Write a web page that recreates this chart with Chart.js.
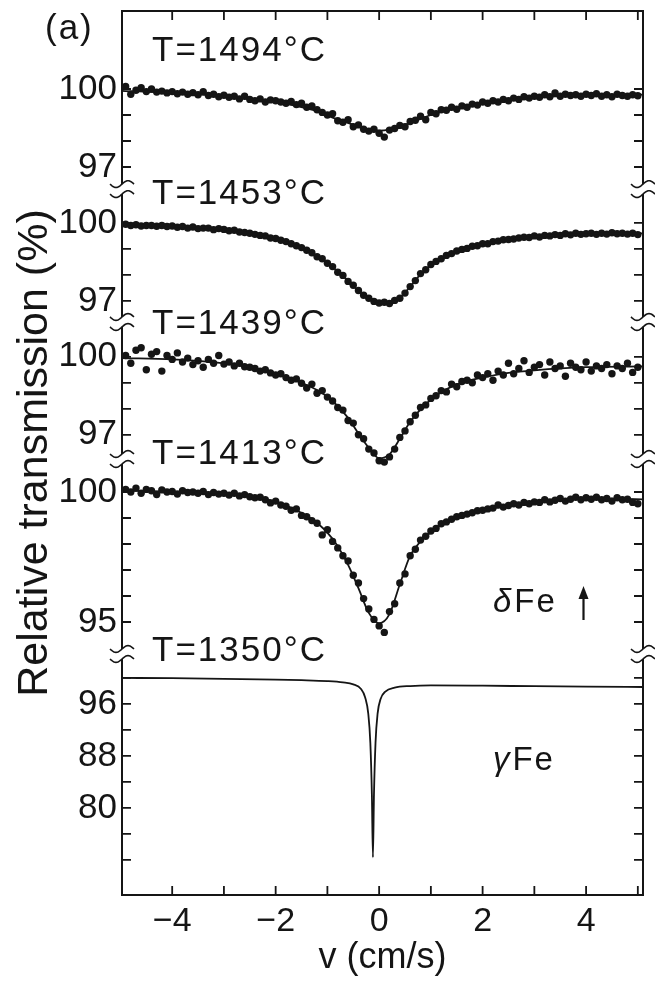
<!DOCTYPE html>
<html><head><meta charset="utf-8">
<script src="https://cdn.jsdelivr.net/npm/chart.js@4.4.1/dist/chart.umd.min.js"></script>
<style>html,body{margin:0;padding:0;background:#fff;}#wrap{width:655px;height:981px;}</style>
</head><body><div id="wrap"><canvas id="c" width="655" height="981"></canvas></div>
<script>
// ---------------- data ----------------
const temperatures = ['T=1494°C', 'T=1453°C', 'T=1439°C', 'T=1413°C', 'T=1350°C'];

// velocity channels of the measured points (cm/s)
const velocity = [-4.9,-4.8,-4.7,-4.6,-4.5,-4.4,-4.3,-4.2,-4.1,-4.0,
  -3.9,-3.8,-3.7,-3.6,-3.5,-3.4,-3.3,-3.2,-3.1,-3.0,
  -2.9,-2.8,-2.7,-2.6,-2.5,-2.4,-2.3,-2.2,-2.1,-2.0,
  -1.9,-1.8,-1.7,-1.6,-1.5,-1.4,-1.3,-1.2,-1.1,-1.0,
  -0.9,-0.8,-0.7,-0.6,-0.5,-0.4,-0.3,-0.2,-0.1,0.0,
  0.1,0.2,0.3,0.4,0.5,0.6,0.7,0.8,0.9,1.0,
  1.1,1.2,1.3,1.4,1.5,1.6,1.7,1.8,1.9,2.0,
  2.1,2.2,2.3,2.4,2.5,2.6,2.7,2.8,2.9,3.0,
  3.1,3.2,3.3,3.4,3.5,3.6,3.7,3.8,3.9,4.0,
  4.1,4.2,4.3,4.4,4.5,4.6,4.7,4.8,4.9,5.0];

const points1494 = [100.1,99.8,99.95,100.05,99.9,100.0,99.88,99.92,99.85,99.9,
  99.82,99.88,99.8,99.86,99.78,99.9,99.75,99.8,99.7,99.76,
  99.68,99.72,99.62,99.72,99.6,99.55,99.62,99.5,99.58,99.55,
  99.5,99.45,99.52,99.4,99.45,99.3,99.35,99.2,99.1,99.0,
  99.05,98.78,98.72,98.82,98.55,98.62,98.45,98.38,98.45,98.3,
  98.15,98.42,98.48,98.6,98.55,98.75,98.8,98.95,98.82,99.1,
  99.05,99.2,99.18,99.3,99.22,99.35,99.3,99.42,99.38,99.5,
  99.45,99.55,99.5,99.6,99.55,99.65,99.6,99.7,99.65,99.72,
  99.68,99.78,99.7,99.85,99.72,99.8,99.75,99.78,99.72,99.8,
  99.75,99.82,99.72,99.78,99.7,99.8,99.75,99.72,99.78,99.74];

const points1453 = [99.95,99.9,99.93,99.88,99.9,99.9,99.87,99.9,99.86,99.88,
  99.83,99.86,99.8,99.84,99.78,99.8,99.8,99.74,99.78,99.75,
  99.7,99.72,99.65,99.63,99.6,99.56,99.52,99.5,99.42,99.4,
  99.33,99.28,99.2,99.12,99.05,98.95,98.85,98.7,98.62,98.45,
  98.32,98.1,97.98,97.75,97.6,97.4,97.22,97.1,96.98,96.92,
  96.95,96.9,97.02,97.1,97.3,97.55,97.78,98.05,98.2,98.4,
  98.52,98.62,98.75,98.82,98.92,98.98,99.02,99.1,99.12,99.2,
  99.2,99.28,99.3,99.35,99.36,99.38,99.42,99.45,99.44,99.5,
  99.46,99.52,99.5,99.55,99.52,99.58,99.54,99.6,99.56,99.58,
  99.6,99.56,99.6,99.57,99.62,99.58,99.6,99.57,99.6,99.55];

const points1439 = [100.05,99.75,100.25,100.35,99.5,100.1,100.2,99.45,100.05,99.9,
  100.15,99.8,99.95,99.7,99.85,99.6,99.9,99.75,100.05,99.72,
  99.8,99.65,99.75,99.62,99.6,99.55,99.45,99.5,99.38,99.3,
  99.35,99.2,99.1,99.15,98.98,98.8,98.95,98.6,98.7,98.45,
  98.3,98.05,97.95,97.55,97.45,97.0,96.85,96.45,96.3,96.0,
  95.95,96.15,96.45,96.9,97.15,97.5,97.75,98.05,98.15,98.4,
  98.5,98.7,98.65,98.95,98.85,99.05,99.1,99.0,99.3,99.2,
  99.35,99.1,99.45,99.3,99.75,99.35,99.55,99.85,99.4,99.6,
  99.7,99.3,99.8,99.55,99.65,99.25,99.75,99.6,99.5,99.8,
  99.45,99.65,99.55,99.7,99.35,99.65,99.55,99.75,99.4,99.6];

const points1413 = [100.1,100.0,100.15,99.95,100.1,100.05,99.9,100.08,100.0,100.02,
  99.92,100.05,99.98,100.0,99.95,100.02,99.9,99.98,99.92,99.95,
  99.88,99.95,99.85,99.9,99.82,99.78,99.8,99.7,99.58,99.65,
  99.5,99.45,99.3,99.35,99.1,99.05,98.9,98.8,98.35,98.55,
  98.1,97.85,97.55,97.35,96.8,96.5,95.9,95.5,95.1,94.85,
  94.6,95.4,95.7,96.5,96.85,97.55,97.8,98.15,98.3,98.5,
  98.6,98.78,98.85,98.95,99.05,99.1,99.15,99.2,99.28,99.3,
  99.35,99.38,99.5,99.42,99.48,99.55,99.5,99.6,99.55,99.62,
  99.6,99.7,99.62,99.68,99.75,99.65,99.72,99.8,99.7,99.78,
  99.72,99.8,99.7,99.75,99.65,99.78,99.7,99.72,99.6,99.55];

// fitted curves
const fitVelocity = [-4.97,-4.0,-3.0,-2.5,-2.0,-1.6,-1.2,-0.9,-0.6,-0.4,-0.2,0.0,0.2,0.4,0.6,0.8,1.0,1.3,1.6,2.0,2.5,3.0,4.0,5.1];
const fit1494 = [99.93,99.85,99.72,99.62,99.5,99.35,99.15,98.9,98.7,98.55,98.45,98.4,98.44,98.55,98.7,98.85,99.0,99.18,99.3,99.45,99.58,99.68,99.76,99.78];
const fit1453 = [99.93,99.88,99.76,99.6,99.38,99.12,98.72,98.3,97.78,97.38,97.08,96.95,96.93,97.12,97.55,98.02,98.38,98.75,98.98,99.18,99.35,99.47,99.57,99.6];
const fit1439 = [99.95,99.9,99.75,99.6,99.35,99.08,98.72,98.3,97.65,97.05,96.5,96.1,96.25,96.85,97.5,97.98,98.35,98.75,99.02,99.2,99.38,99.48,99.6,99.63];
const fit1413 = [100.05,100.02,99.95,99.85,99.62,99.3,98.82,98.2,97.2,96.3,95.35,94.95,95.3,96.45,97.55,98.1,98.45,98.85,99.1,99.3,99.48,99.6,99.75,99.72];
const gammaVelocity = [-4.97,-4,-3,-2,-1.5,-1,-0.7,-0.5,-0.35,-0.27,-0.21,-0.17,-0.14,-0.12,-0.1,-0.07,-0.03,0.03,0.12,0.3,0.6,1,2,3,4,5.1];
const fit1350 = [100.0,99.95,99.85,99.75,99.65,99.5,99.3,99.0,98.3,97.0,94.5,90.0,82.0,72.4,82.0,90.0,94.5,96.8,97.9,98.5,98.75,98.85,98.8,98.72,98.65,98.6];

// tick values (%) of each panel and the ones that carry a label
const deltaTicks = [100, 99, 98, 97];
const deltaLabels = [100, 97];
const ticks1413 = [100, 99, 98, 97, 96, 95];
const labels1413 = [100, 95];
const ticks1350 = [100, 96, 92, 88, 84, 80, 76, 72];
const labels1350 = [96, 88, 80];
const xTickValues = [-4, -3, -2, -1, 0, 1, 2, 3, 4, 5];

// ---------------- layout of the stacked panels ----------------
const panelBase = [31.0, 25.85, 20.7, 15.5, 8.35];   // display position of 100 %
const panelScale = [1, 1, 1, 1, 0.25];              // display units per %
const breakAt = [27.15, 22.04, 16.77, 9.27];
const labelAt = [32.5, 27.0, 22.0, 17.0, 9.42];
const FONT = '"Liberation Sans", Arial, Helvetica, sans-serif';
const INK = '#151515';

const toDisp = (k, t) => panelBase[k] + (t - 100) * panelScale[k];
const pts = (k, xs, ys) => xs.map((v, i) => ({x: v, y: toDisp(k, ys[i])}));

const pointSets = [points1494, points1453, points1439, points1413];
const fitSets = [fit1494, fit1453, fit1439, fit1413];
const datasets = [];
pointSets.forEach((arr, k) => datasets.push({
  data: pts(k, velocity, arr), showLine: false, pointRadius: 3.7,
  pointBackgroundColor: INK, pointBorderWidth: 0, order: 2 }));
fitSets.forEach((arr, k) => datasets.push({
  data: pts(k, fitVelocity, arr), showLine: true, pointRadius: 0, borderColor: INK,
  borderWidth: 1.8, cubicInterpolationMode: 'monotone', order: 1 }));
datasets.push({ data: pts(4, gammaVelocity, fit1350), showLine: true, pointRadius: 0,
  borderColor: INK, borderWidth: 1.8, cubicInterpolationMode: 'monotone', order: 1 });

const yTicks = [];
const panelTicks = [deltaTicks, deltaTicks, deltaTicks, ticks1413, ticks1350];
const panelLabels = [deltaLabels, deltaLabels, deltaLabels, labels1413, labels1350];
panelTicks.forEach((list, k) => list.forEach(t => yTicks.push({
  value: toDisp(k, t), label: panelLabels[k].includes(t) ? String(t) : '' })));

function spacedText(ctx, s, x, y, sp) {
  ctx.letterSpacing = sp + 'px';
  ctx.fillText(s, x, y);
  const w = ctx.measureText(s).width;
  ctx.letterSpacing = '0px';
  return w;
}

const decor = {
  id: 'decor',
  afterDatasetsDraw(chart) {
    const {ctx, chartArea: a, scales: {x, y}} = chart;
    ctx.save();
    ctx.strokeStyle = INK; ctx.fillStyle = INK; ctx.lineCap = 'butt';
    ctx.lineWidth = 2;
    ctx.beginPath();
    ctx.moveTo(a.left - 1, a.top); ctx.lineTo(a.right + 1, a.top);
    ctx.moveTo(a.left - 1, a.bottom); ctx.lineTo(a.right + 1, a.bottom);
    ctx.stroke();
    const gaps = breakAt.map(u => y.getPixelForValue(u)).sort((p, q) => p - q);
    const G = 5;
    [a.left, a.right].forEach(xx => {
      ctx.lineWidth = 2;
      ctx.beginPath();
      let start = a.top;
      gaps.forEach(g => { ctx.moveTo(xx, start); ctx.lineTo(xx, g - G); start = g + G; });
      ctx.moveTo(xx, start); ctx.lineTo(xx, a.bottom);
      ctx.stroke();
      ctx.lineWidth = 1.6;
      gaps.forEach(g => [-G, G].forEach(off => {
        ctx.beginPath();
        for (let i = 0; i <= 24; i++) {
          const dx = i - 12;
          const py = g + off - 3.4 * Math.sin(dx / 12 * Math.PI);
          if (i === 0) ctx.moveTo(xx + dx, py); else ctx.lineTo(xx + dx, py);
        }
        ctx.stroke();
      }));
    });
    // inward ticks
    ctx.lineWidth = 1.8;
    const TL = 9;
    ctx.beginPath();
    xTickValues.forEach(v => {
      const px = x.getPixelForValue(v);
      ctx.moveTo(px, a.bottom); ctx.lineTo(px, a.bottom - TL);
      ctx.moveTo(px, a.top); ctx.lineTo(px, a.top + TL);
    });
    yTicks.forEach(t => {
      const py = y.getPixelForValue(t.value);
      ctx.moveTo(a.left, py); ctx.lineTo(a.left + TL, py);
      ctx.moveTo(a.right, py); ctx.lineTo(a.right - TL, py);
    });
    ctx.stroke();
    // panel labels
    ctx.font = '35px ' + FONT;
    ctx.textAlign = 'left'; ctx.textBaseline = 'middle';
    temperatures.forEach((s, k) => spacedText(ctx, s, a.left + 30, y.getPixelForValue(labelAt[k]) + 1, 2));
    // (a)
    ctx.font = '35px ' + FONT;
    spacedText(ctx, '(a)', 45, 29, 2);
    // delta Fe with arrow
    const dy = y.getPixelForValue(11.23), dx0 = x.getPixelForValue(2.2);
    ctx.font = 'italic 33px ' + FONT;
    const wd = spacedText(ctx, 'δ', dx0, dy, 2);
    ctx.font = '33px ' + FONT;
    spacedText(ctx, 'Fe', dx0 + wd + 1, dy, 2);
    const ax = x.getPixelForValue(3.95);
    ctx.lineWidth = 2.2;
    ctx.beginPath(); ctx.moveTo(ax, dy + 17); ctx.lineTo(ax, dy - 8); ctx.stroke();
    ctx.beginPath(); ctx.moveTo(ax, dy - 17); ctx.lineTo(ax - 5, dy - 4); ctx.lineTo(ax + 5, dy - 4); ctx.closePath(); ctx.fill();
    // gamma Fe
    const gy = y.getPixelForValue(5.15), gx = x.getPixelForValue(2.2);
    ctx.font = 'italic 33px ' + FONT;
    const wg = spacedText(ctx, 'γ', gx, gy, 2);
    ctx.font = '33px ' + FONT;
    spacedText(ctx, 'Fe', gx + wg + 1, gy, 2);
    ctx.restore();
  }
};

new Chart(document.getElementById('c'), {
  type: 'scatter',
  data: { datasets },
  options: {
    responsive: false, animation: false, events: [],
    layout: { padding: { top: 11, right: 12, left: 0, bottom: 0 } },
    plugins: { legend: { display: false }, tooltip: { enabled: false } },
    scales: {
      x: {
        type: 'linear', min: -4.97, max: 5.1,
        afterBuildTicks: s => { s.ticks = xTickValues.map(v => ({value: v})); },
        afterFit: s => { s.height = 86; s.paddingLeft = 0; s.paddingRight = 0; },
        grid: { display: false, drawTicks: false }, border: { display: false },
        ticks: { autoSkip: false, maxRotation: 0, padding: 6, color: INK,
          font: { family: FONT, size: 34 },
          callback: v => (v % 2 === 0 ? (v < 0 ? '\u2212' + Math.abs(v) : String(v)) : '') },
        title: { display: true, text: 'v (cm/s)', color: INK, font: { family: FONT, size: 36 },
          padding: { top: 0, bottom: 1 } }
      },
      y: {
        type: 'linear', min: 0, max: 34,
        afterBuildTicks: s => { s.ticks = yTicks.map(t => ({value: t.value})); },
        afterFit: s => { s.width = 122; s.paddingTop = 0; s.paddingBottom = 0; },
        grid: { display: false, drawTicks: false }, border: { display: false },
        ticks: { autoSkip: false, padding: 5, color: INK, font: { family: FONT, size: 35 },
          callback: v => { const t = yTicks.find(q => Math.abs(q.value - v) < 1e-6); return t ? t.label : ''; } },
        title: { display: true, text: 'Relative transmission (%)', color: INK,
          font: { family: FONT, size: 43 }, padding: { top: 9, bottom: 0 } }
      }
    }
  },
  plugins: [decor]
});
</script></body></html>
